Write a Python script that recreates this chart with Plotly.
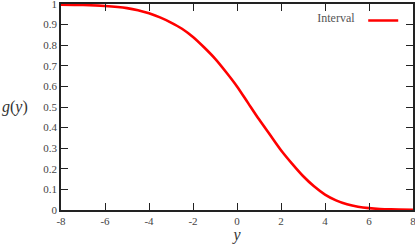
import plotly.graph_objects as go

# values
y_vals = [-8, -7, -6, -5, -4.5, -4, -3.5, -3, -2.5, -2, -1.5, -1, -0.5, 0, 0.5, 1,
          1.5, 2, 2.5, 3, 3.5, 4, 4.5, 5, 5.5, 6, 6.5, 7, 8]
g_vals = [0.997, 0.995, 0.99, 0.98, 0.97, 0.955, 0.935, 0.91, 0.88, 0.84, 0.79, 0.735, 0.67,
          0.6, 0.52, 0.44, 0.365, 0.29, 0.225, 0.165, 0.115, 0.075, 0.047, 0.028, 0.016,
          0.009, 0.005, 0.003, 0.001]
series_name = "Interval"
x_ticks = [-8, -6, -4, -2, 0, 2, 4, 6, 8]
x_tick_labels = ["-8", "-6", "-4", "-2", "0", "2", "4", "6", "8"]
y_ticks = [0, 0.1, 0.2, 0.3, 0.4, 0.5, 0.6, 0.7, 0.8, 0.9, 1]
y_tick_labels = ["0", "0.1", "0.2", "0.3", "0.4", "0.5", "0.6", "0.7", "0.8", "0.9", "1"]

font = "Liberation Serif"

fig = go.Figure()
fig.add_trace(go.Scatter(
    x=y_vals, y=g_vals, mode="lines", name=" ",
    line=dict(color="#ff0000", width=2.6, shape="spline", smoothing=0.8),
    showlegend=True, cliponaxis=True,
))

axis_common = dict(
    showgrid=False, zeroline=False, showline=True, linecolor="#222", linewidth=1.5,
    mirror="allticks", ticks="inside", ticklen=7, tickwidth=1.2, tickcolor="#222",
    tickfont=dict(family=font, size=11, color="#444"), automargin=False,
    ticklabeloverflow="allow",
)

fig.update_layout(
    width=415, height=244,
    margin=dict(l=61, r=2, t=4, b=34, autoexpand=False),
    paper_bgcolor="white", plot_bgcolor="white",
    font=dict(family=font),
    xaxis=dict(range=[-8, 8], tickvals=x_ticks, ticktext=x_tick_labels,
               title=dict(text="<i>y</i>", font=dict(family=font, size=16, color="#333"), standoff=0),
               **axis_common),
    yaxis=dict(range=[0, 1], tickvals=y_ticks, ticktext=y_tick_labels,
               title=dict(text=""), **axis_common),
    legend=dict(
        x=0.995, y=0.99, xanchor="right", yanchor="top",
        bgcolor="rgba(0,0,0,0)",
        title=dict(text=series_name, side="left", font=dict(family=font, size=12, color="#555")),
        font=dict(family=font, size=11), itemwidth=30, tracegroupgap=0,
    ),
    annotations=[dict(
        text="<i>g</i>(<i>y</i>)", xref="paper", yref="paper", x=-0.174, y=0.5,
        xanchor="left", yanchor="middle", showarrow=False,
        font=dict(family=font, size=16, color="#333"),
    )],
)

fig.write_html(
    "out.html",
    config={"displayModeBar": False},
    post_script="document.body.style.margin='0';document.body.style.overflow='hidden';",
)
